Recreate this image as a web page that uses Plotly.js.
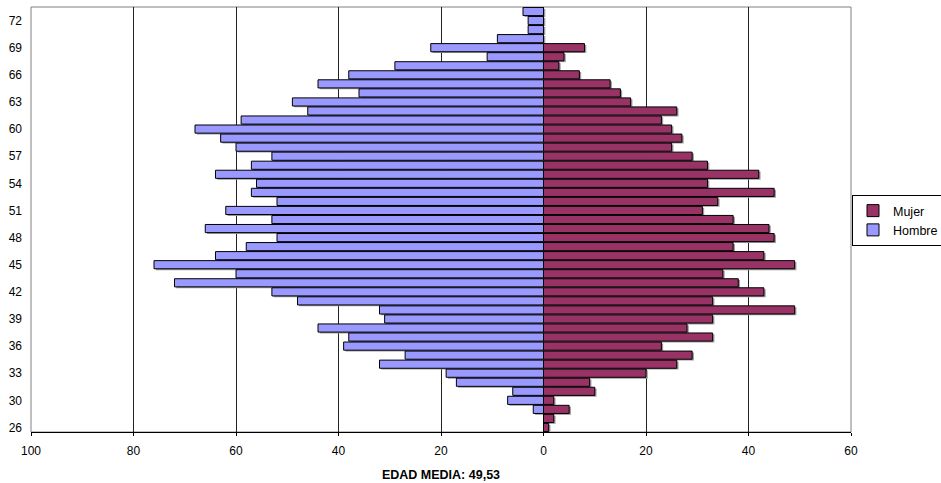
<!DOCTYPE html>
<html><head><meta charset="utf-8">
<script src="https://cdn.plot.ly/plotly-3.0.1.min.js"></script>
<style>html,body{margin:0;padding:0;background:#fff;}#chart{width:941px;height:483px;}</style>
</head><body><div id="chart"></div>
<script>
// Age categories (27 is absent in the source)
const ages = [26,28,29,30,31,32,33,34,35,36,37,38,39,40,41,42,43,44,45,46,47,48,49,50,
              51,52,53,54,55,56,57,58,59,60,61,62,63,64,65,66,67,68,69,70,71,72,73];
const hombre = [0,0,2,7,6,17,19,32,27,39,38,44,31,32,48,53,72,60,76,64,58,52,66,53,
                62,52,57,56,64,57,53,60,63,68,59,46,49,36,44,38,29,11,22,9,3,3,4];
const mujer = [1,2,5,2,10,9,20,26,29,23,33,28,33,49,33,43,38,35,49,43,37,45,44,37,
               31,34,45,32,42,32,29,25,27,25,23,26,17,15,13,7,3,4,8,0,0,0,0];
const yTickLabels = ['26','30','33','36','39','42','45','48','51','54','57','60','63','66','69','72'];
const xTickValues = [-100,-80,-60,-40,-20,0,20,40,60];
const xTickLabels = ['100','80','60','40','20','0','20','40','60'];
const xTitle = 'EDAD MEDIA: 49,53';

const cats = ages.map(String);
const negHombre = hombre.map(v => -v);
const FONT = 'Liberation Sans, Arial, sans-serif';
const SHADOW = '#9a9a9a';

const traces = [
  {type:'bar', orientation:'h', y:cats, x:mujer, base:0.35, width:0.9, offset:-0.6,
   marker:{color:SHADOW, line:{width:0}}, showlegend:false, hoverinfo:'skip'},
  {type:'bar', orientation:'h', y:cats, x:negHombre, base:0.35, width:0.9, offset:-0.6,
   marker:{color:SHADOW, line:{width:0}}, showlegend:false, hoverinfo:'skip'},
  {type:'bar', orientation:'h', name:'Mujer', y:cats, x:mujer, width:0.9, offset:-0.45,
   marker:{color:'#993366', line:{color:'#000', width:1}}},
  {type:'bar', orientation:'h', name:'Hombre', y:cats, x:negHombre, width:0.9, offset:-0.45,
   marker:{color:'#9999FF', line:{color:'#000', width:1}}}
];

const layout = {
  width:941, height:483,
  margin:{l:31, r:90, t:7, b:51, pad:0},
  paper_bgcolor:'#fff', plot_bgcolor:'#fff',
  barmode:'overlay',
  font:{family:FONT, size:12, color:'#000'},
  xaxis:{range:[-100,60], tickmode:'array', tickvals:xTickValues, ticktext:xTickLabels,
         showgrid:true, gridcolor:'#222', gridwidth:1, zeroline:false,
         showline:true, linecolor:'#000', linewidth:1,
         ticks:'outside', ticklen:3, tickcolor:'#000', ticklabelstandoff:5,
         tickfont:{family:FONT, size:12, color:'#000'},
         title:{text:'<b>'+xTitle+'</b>', font:{family:FONT, size:12.5, color:'#000'}, standoff:12},
         automargin:false, fixedrange:true},
  yaxis:{type:'category', categoryorder:'array', categoryarray:cats,
         range:[-0.5, cats.length-0.5], tickmode:'array', tickvals:yTickLabels, ticktext:yTickLabels,
         showgrid:false, zeroline:false, showline:false, ticks:'', ticklabelstandoff:8,
         tickfont:{family:FONT, size:12, color:'#000'}, automargin:false, fixedrange:true},
  shapes:[{type:'rect', xref:'paper', yref:'paper', x0:0, x1:1, y0:0, y1:1,
           line:{color:'#808080', width:1}, layer:'below'}],
  legend:{xref:'container', yref:'container', x:852/941, y:1-195/483,
          xanchor:'left', yanchor:'top', bgcolor:'#fff',
          bordercolor:'#000', borderwidth:1, font:{family:FONT, size:12.5, color:'#000'},
          traceorder:'normal'},
  showlegend:true
};

Plotly.newPlot('chart', traces, layout, {displayModeBar:false, staticPlot:true});
</script>
</body></html>
